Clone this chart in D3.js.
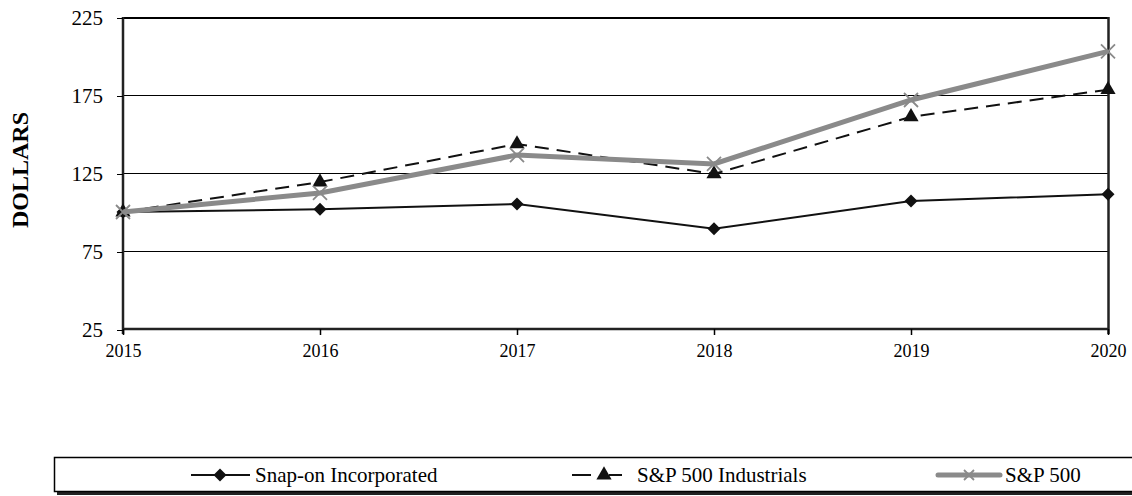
<!DOCTYPE html>
<html><head><meta charset="utf-8">
<script src="https://cdn.jsdelivr.net/npm/d3@7"></script>
<style>body{margin:0;background:#fff}svg{display:block}</style>
</head><body><svg id="c" width="1132" height="496"></svg>
<script>
const years = [2015, 2016, 2017, 2018, 2019, 2020];
const snapOn = [100, 101.7, 105.1, 89.3, 107.0, 111.4];
const industrials = [100, 119.2, 143.6, 124.4, 161.0, 178.4];
const sp500 = [100, 112.2, 136.5, 130.8, 171.8, 203.0];
const yTicks = [25, 75, 125, 175, 225];
const seriesNames = ["Snap-on Incorporated", "S&P 500 Industrials", "S&P 500"];

const svg = d3.select("#c");
const font = "Liberation Serif, Times New Roman, serif";
const x = d3.scalePoint().domain(years).range([123, 1108]);
const y = d3.scaleLinear().domain([25, 225]).range([329, 17]);

// gridlines
svg.append("g").selectAll("line").data(yTicks.filter(d => d > 25)).join("line")
  .attr("x1", 123).attr("x2", 1108).attr("y1", d => y(d) + 0.5).attr("y2", d => y(d) + 0.5)
  .attr("stroke", "#000").attr("stroke-width", d => d === 225 ? 2 : 1)
  .attr("shape-rendering", "crispEdges");

// right border
svg.append("line").attr("x1", 1108.5).attr("x2", 1108.5).attr("y1", y(225)).attr("y2", y(25) + 5)
  .attr("stroke", "#222").attr("stroke-width", 2.5);

// axes
const yAxis = svg.append("g").attr("transform", "translate(123,0)")
  .call(d3.axisLeft(y).tickValues(yTicks).tickSize(6).tickPadding(14));
yAxis.select(".domain").attr("stroke", "#222").attr("stroke-width", 2.5).attr("d", `M0,${y(225)}V${y(25)+5}`);
yAxis.selectAll("line").attr("stroke", "#000").attr("transform", "translate(0,0.5)").attr("shape-rendering", "crispEdges");
yAxis.selectAll("text").attr("font-family", font).attr("font-size", 21).attr("fill", "#000").attr("dy", "0.35em");

const xAxis = svg.append("g").attr("transform", `translate(0,${y(25)})`)
  .call(d3.axisBottom(x).tickSize(6).tickPadding(9));
xAxis.select(".domain").attr("stroke", "#222").attr("stroke-width", 2.5).attr("d", `M123,0H1108`);
xAxis.selectAll("line").attr("stroke", "#000").attr("stroke-width", 1.5);
xAxis.selectAll("text").attr("font-family", font).attr("font-size", 18).attr("fill", "#000");

// y label
svg.append("text").attr("transform", "translate(20,170) rotate(-90)")
  .attr("text-anchor", "middle").attr("dy", "0.35em").attr("font-family", font).attr("font-weight", "bold")
  .attr("font-size", 24).text("DOLLARS");

const line = d3.line().x((d, i) => x(years[i])).y(d => y(d));

const diamond = d3.symbol().type(d3.symbolSquare).size(85);
const triangle = d3.symbol().type(d3.symbolTriangle).size(100);
function xMark(g, cx, cy, r) {
  g.append("path").attr("d", `M${cx-r},${cy-r}L${cx+r},${cy+r}M${cx-r},${cy+r}L${cx+r},${cy-r}`)
    .attr("stroke", "#8a8a8a").attr("stroke-width", 1.8).attr("fill", "none");
}

// Snap-on
svg.append("path").datum(snapOn).attr("d", line).attr("fill", "none").attr("stroke", "#111").attr("stroke-width", 2);
svg.append("g").selectAll("path").data(snapOn).join("path")
  .attr("d", diamond).attr("transform", (d, i) => `translate(${x(years[i])},${y(d)}) rotate(45)`).attr("fill", "#111");

// Industrials
svg.append("path").datum(industrials).attr("d", line).attr("fill", "none").attr("stroke", "#111")
  .attr("stroke-width", 2).attr("stroke-dasharray", "14,8");
svg.append("g").selectAll("path").data(industrials).join("path")
  .attr("d", triangle).attr("transform", (d, i) => `translate(${x(years[i])},${y(d)})`).attr("fill", "#111");

// S&P 500
svg.append("path").datum(sp500).attr("d", line).attr("fill", "none").attr("stroke", "#8a8a8a").attr("stroke-width", 5);
const sg = svg.append("g");
sp500.forEach((d, i) => xMark(sg, x(years[i]), y(d), 7));

// legend
svg.append("rect").attr("x", 57).attr("y", 460).attr("width", 1090).attr("height", 35).attr("fill", "#222");
svg.append("rect").attr("x", 54.5).attr("y", 457.5).attr("width", 1090).attr("height", 34)
  .attr("fill", "#fff").attr("stroke", "#000").attr("stroke-width", 1.5);

const ly = 475;
// snap-on legend
svg.append("line").attr("x1", 191).attr("x2", 250).attr("y1", ly).attr("y2", ly).attr("stroke", "#111").attr("stroke-width", 2);
svg.append("path").attr("d", diamond).attr("transform", `translate(220,${ly}) rotate(45)`).attr("fill", "#111");
// industrials legend
svg.append("line").attr("x1", 572).attr("x2", 591).attr("y1", ly).attr("y2", ly).attr("stroke", "#111").attr("stroke-width", 2);
svg.append("line").attr("x1", 609).attr("x2", 622).attr("y1", ly).attr("y2", ly).attr("stroke", "#111").attr("stroke-width", 2);
svg.append("path").attr("d", triangle).attr("transform", `translate(604,${ly})`).attr("fill", "#111");
// sp500 legend
svg.append("line").attr("x1", 938).attr("x2", 1000).attr("y1", ly).attr("y2", ly).attr("stroke", "#8a8a8a").attr("stroke-width", 5).attr("stroke-linecap", "round");
xMark(svg, 969, ly, 5);

const textX = [255, 637, 1005];
svg.append("g").selectAll("text").data(seriesNames).join("text")
  .attr("x", (d, i) => textX[i]).attr("y", ly).attr("dy", "0.35em")
  .attr("font-family", font).attr("font-size", 21).text(d => d);
</script></body></html>
